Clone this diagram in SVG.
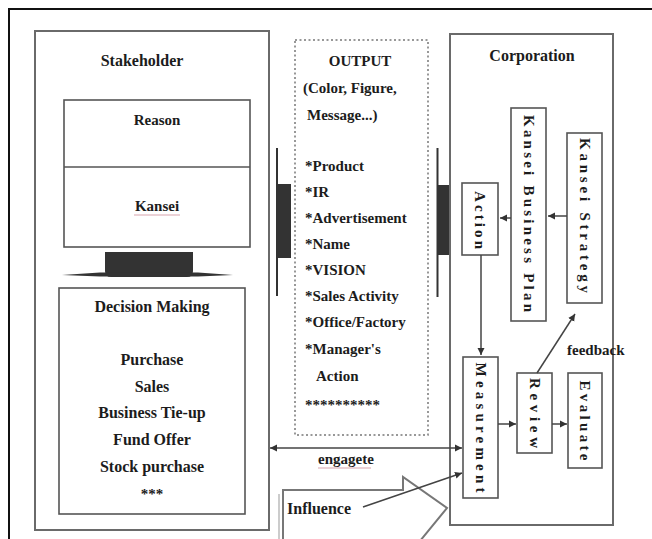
<svg xmlns="http://www.w3.org/2000/svg" width="652" height="539" viewBox="0 0 652 539">
  <style>
    text { font-family: "Liberation Serif", "Times New Roman", serif; fill: #1c1c1c; font-weight: bold; }
    .t16 { font-size: 16px; }
    .t15 { font-size: 15px; }
    .mid { text-anchor: middle; }
    .box { fill: #ffffff; stroke: #6a6a6a; stroke-width: 2; }
    .ibox { fill: #ffffff; stroke: #555555; stroke-width: 1.6; }
    .dot { fill: none; stroke: #777777; stroke-width: 1.5; stroke-dasharray: 2 2.5; }
    .conn { fill: none; stroke: #444444; stroke-width: 1.5; }
    .dark { fill: #333333; stroke: none; }
    .vt { font-size: 15px; text-anchor: middle; dominant-baseline: central; }
    .ul { stroke: #d8a3ad; stroke-width: 1.2; }
  </style>
  <defs>
    <marker id="arr" markerWidth="8" markerHeight="8" refX="7" refY="4" orient="auto" markerUnits="userSpaceOnUse">
      <path d="M0,0.5 L7,4 L0,7.5 Z" fill="#333333"/>
    </marker>
    <marker id="arrs" markerWidth="8" markerHeight="8" refX="1" refY="4" orient="auto" markerUnits="userSpaceOnUse">
      <path d="M8,0.5 L1,4 L8,7.5 Z" fill="#333333"/>
    </marker>
  </defs>

  <rect width="652" height="539" fill="#ffffff"/>
  <!-- frame -->
  <line x1="8" y1="9" x2="652" y2="9" stroke="#111111" stroke-width="2"/>
  <line x1="9" y1="8" x2="9" y2="539" stroke="#111111" stroke-width="2"/>

  <!-- Stakeholder -->
  <g id="stakeholder">
    <rect class="box" x="35" y="31" width="234" height="499"/>
    <text class="t16 mid" x="142" y="66">Stakeholder</text>
  </g>
  <g id="reason-kansei">
    <rect class="ibox" x="64" y="100" width="186" height="147"/>
    <line x1="64" y1="167" x2="250" y2="167" stroke="#555555" stroke-width="1.6"/>
    <text class="t15 mid" x="157" y="125">Reason</text>
    <text class="t15 mid" x="157" y="211">Kansei</text>
    <line class="ul" x1="134" y1="215" x2="180" y2="215"/>
  </g>
  <g id="stand">
    <path class="dark" d="M105,252 L193,252 L193,271 Q193,277 187,277 L111,277 Q105,277 105,271 Z"/>
    <path class="dark" d="M62,275 L100,272.5 L198,272.5 L233,275 L198,276.5 L100,276.5 Z"/>
  </g>
  <g id="decision">
    <rect class="ibox" x="59" y="288" width="186" height="226"/>
    <text class="t16 mid" x="152" y="312">Decision Making</text>
    <text class="t16 mid" x="152" y="365">Purchase</text>
    <text class="t16 mid" x="152" y="392">Sales</text>
    <text class="t16 mid" x="152" y="418">Business Tie-up</text>
    <text class="t16 mid" x="152" y="445">Fund Offer</text>
    <text class="t16 mid" x="152" y="472">Stock purchase</text>
    <text class="t15 mid" x="152" y="499">***</text>
  </g>

  <!-- Output -->
  <g id="output">
    <rect class="dot" x="295" y="40" width="133" height="395"/>
    <text class="t15 mid" x="360" y="66">OUTPUT</text>
    <text class="t15" x="303" y="93">(Color, Figure,</text>
    <text class="t15" x="307" y="120">Message...)</text>
    <text class="t15" x="305" y="171">*Product</text>
    <text class="t15" x="305" y="197">*IR</text>
    <text class="t15" x="305" y="223">*Advertisement</text>
    <text class="t15" x="305" y="249">*Name</text>
    <text class="t15" x="305" y="275">*VISION</text>
    <text class="t15" x="305" y="301">*Sales Activity</text>
    <text class="t15" x="305" y="327">*Office/Factory</text>
    <text class="t15" x="305" y="354">*Manager's</text>
    <text class="t15" x="316" y="381">Action</text>
    <text class="t15" x="305" y="410">**********</text>
  </g>

  <!-- side bars -->
  <g id="bar-left">
    <line x1="277" y1="148" x2="277" y2="296" stroke="#333333" stroke-width="2"/>
    <rect class="dark" x="276" y="184" width="15" height="74"/>
  </g>
  <g id="bar-right">
    <line x1="437.5" y1="148" x2="437.5" y2="297" stroke="#333333" stroke-width="2"/>
    <rect class="dark" x="437" y="185" width="19" height="70"/>
  </g>

  <!-- Corporation -->
  <g id="corporation">
    <rect class="box" x="450" y="34" width="163" height="491"/>
    <text class="t16 mid" x="532" y="61">Corporation</text>
  </g>
  <g id="action">
    <rect class="ibox" x="462" y="183" width="36" height="72"/>
    <text class="vt" transform="translate(480,220) rotate(90)" textLength="58" lengthAdjust="spacing">Action</text>
  </g>
  <g id="business-plan">
    <rect class="ibox" x="511" y="108" width="35" height="213"/>
    <text class="vt" transform="translate(528.5,213.5) rotate(90)" textLength="197" lengthAdjust="spacing">Kansei Business Plan</text>
  </g>
  <g id="strategy">
    <rect class="ibox" x="567" y="133" width="35" height="170"/>
    <text class="vt" transform="translate(584.5,215.5) rotate(90)" textLength="155" lengthAdjust="spacing">Kansei Strategy</text>
  </g>
  <g id="measurement">
    <rect class="ibox" x="463" y="357" width="35" height="141"/>
    <text class="vt" transform="translate(480.5,427.5) rotate(90)" textLength="130" lengthAdjust="spacing">Measurement</text>
  </g>
  <g id="review">
    <rect class="ibox" x="517" y="373" width="35" height="80"/>
    <text class="vt" transform="translate(534.5,413) rotate(90)" textLength="70" lengthAdjust="spacing">Review</text>
  </g>
  <g id="evaluate">
    <rect class="ibox" x="568" y="373" width="34" height="95"/>
    <text class="vt" transform="translate(585,420.5) rotate(90)" textLength="80" lengthAdjust="spacing">Evaluate</text>
  </g>

  <!-- Influence block arrow -->
  <g id="influence">
    <path d="M283,541 L283,490 L403,490 L403,477 L447,508 L420,541" fill="#ffffff" stroke="#777777" stroke-width="2"/>
    <path d="M279,541 L279,494" fill="none" stroke="#bbbbbb" stroke-width="1.5"/>
    <text class="t16" x="287" y="514">Influence</text>
  </g>

  <!-- connectors -->
  <g id="connectors">
    <line class="conn" x1="567" y1="216" x2="548" y2="216" marker-end="url(#arr)"/>
    <line class="conn" x1="511" y1="218" x2="500" y2="218" marker-end="url(#arr)"/>
    <line class="conn" x1="481" y1="255" x2="481" y2="355" marker-end="url(#arr)"/>
    <line class="conn" x1="498" y1="424" x2="516" y2="424" marker-end="url(#arr)"/>
    <line class="conn" x1="552" y1="424" x2="567" y2="424" marker-end="url(#arr)"/>
    <line class="conn" x1="537" y1="373" x2="575" y2="314" marker-end="url(#arr)"/>
    <line class="conn" x1="270" y1="448" x2="462" y2="448" stroke-width="2" marker-start="url(#arrs)" marker-end="url(#arr)"/>
    <line class="conn" x1="363" y1="507" x2="462" y2="473" marker-end="url(#arr)"/>
    <text class="t15" x="567" y="355">feedback</text>
    <text class="t15" x="318" y="464">engagete</text>
    <line class="ul" x1="318" y1="468" x2="371" y2="468"/>
  </g>
</svg>
